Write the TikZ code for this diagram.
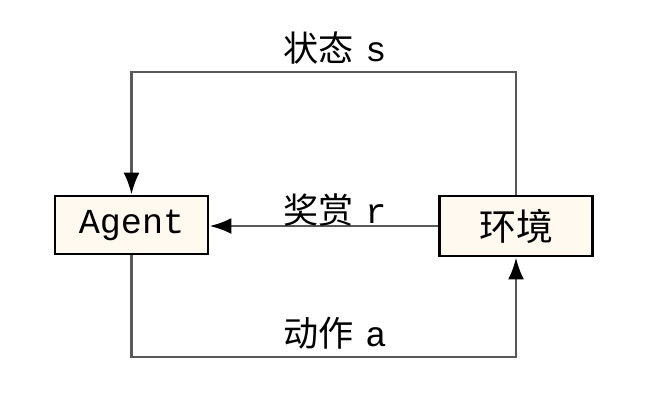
\documentclass[tikz,border=0pt]{standalone}
\usepackage{fontspec}
\setmonofont{Liberation Mono}
\newfontfamily\cjk{Noto Sans CJK SC}
\usetikzlibrary{arrows.meta}

\begin{document}
\begin{tikzpicture}[line width = 0.8pt,
                    box/.style = {draw = black, fill = yellow!12!orange!5!white, minimum width = 1.53cm, minimum height = 0.58cm, inner sep = 0pt},
                    link/.style = {draw = black!65, -{Latex[length=2.2mm, width=1.6mm, black]}},
                    tag/.style = {font = \fontsize{10pt}{12pt}\selectfont, inner sep = 0pt}]
  \useasboundingbox (0, 0) rectangle (6.59, 4.06);

  \node [box, font = \ttfamily\fontsize{10pt}{12pt}\selectfont] (agent) at (1.315, 1.81) {Agent};
  \node [box, minimum height = 0.6cm, font = \cjk\fontsize{10.5pt}{12pt}\selectfont] (env) at (5.16, 1.80) {环境};

  \coordinate (top) at (3.3, 3.34);
  \coordinate (bottom) at (3.3, 0.49);

  \draw [link] (env.north) -- (env.north |- top) -| (agent.north);
  \draw [link] (env.west) -- (env.west -| agent.east);
  \draw [link] (agent.south) -- (agent.south |- bottom) -| (env.south);

  \node [tag] (state) at (3.35, 3.58) {{\cjk 状态} \texttt{s}};
  \node [tag] (reward) at (3.35, 1.96) {{\cjk 奖赏} \texttt{r}};
  \node [tag] (action) at (3.35, 0.73) {{\cjk 动作} \texttt{a}};
\end{tikzpicture}
\end{document}
